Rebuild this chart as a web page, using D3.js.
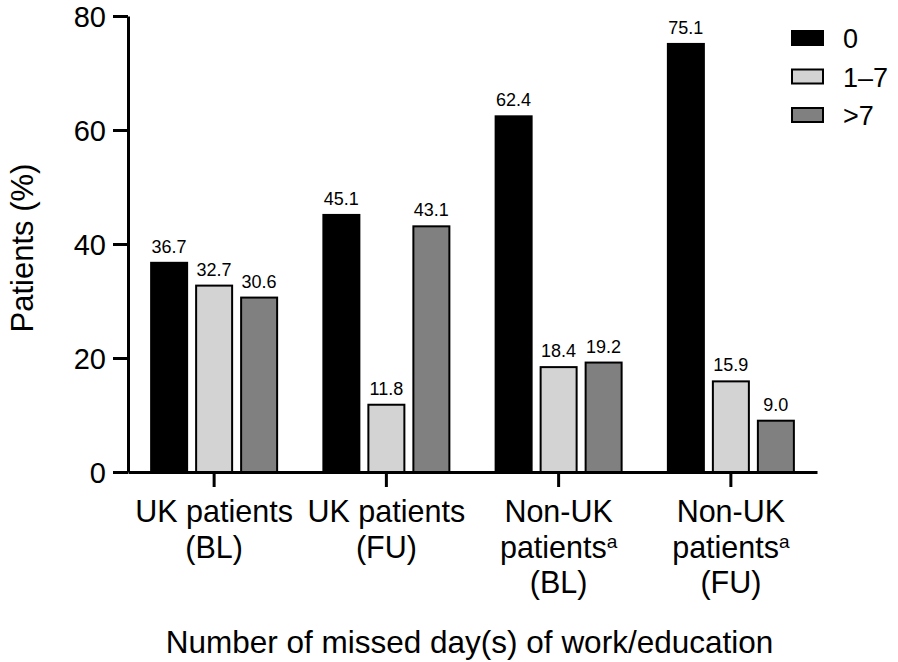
<!DOCTYPE html>
<html>
<head>
<meta charset="utf-8">
<script src="https://cdn.jsdelivr.net/npm/d3@7"></script>
<style>
  html, body { margin: 0; padding: 0; background: #fff; }
  svg { display: block; font-family: "Liberation Sans", Arial, sans-serif; }
</style>
</head>
<body>
<svg id="chart" width="898" height="662"></svg>
<script>
const categories = ["UK patients (BL)", "UK patients (FU)", "Non-UK patients (BL)", "Non-UK patients (FU)"];
const categoryLines = [
  [["UK patients", ""], ["(BL)", ""]],
  [["UK patients", ""], ["(FU)", ""]],
  [["Non-UK", ""], ["patients", "a"], ["(BL)", ""]],
  [["Non-UK", ""], ["patients", "a"], ["(FU)", ""]]
];
const seriesNames = ["0", "1\u20137", ">7"];
const values0 = [36.7, 45.1, 62.4, 75.1];
const values1to7 = [32.7, 11.8, 18.4, 15.9];
const valuesOver7 = [30.6, 43.1, 19.2, 9.0];
const yTicks = [0, 20, 40, 60, 80];
const colors = ["#000000", "#d3d3d3", "#808080"];

const seriesValues = [values0, values1to7, valuesOver7];
const data = categories.map((c, i) => ({
  cat: c,
  vals: seriesNames.map((s, j) => ({ series: s, idx: j, value: seriesValues[j][i] }))
}));

const svg = d3.select("#chart");
const mLeft = 128, mRight = 817, mTop = 16, mBottom = 472;

const x0 = d3.scaleBand().domain(categories).range([mLeft, mRight]).padding(0);
const bw = x0.bandwidth();
const x1 = d3.scaleBand().domain(seriesNames)
  .range([bw / 2 - 67.5, bw / 2 + 67.5]).paddingInner(0.2).paddingOuter(0.1);
const y = d3.scaleLinear().domain([0, 80]).range([mBottom, mTop]);

// bars
const g = svg.append("g");
const groups = g.selectAll("g.grp").data(data).join("g")
  .attr("class", "grp")
  .attr("transform", d => `translate(${x0(d.cat)},0)`);

groups.selectAll("rect").data(d => d.vals).join("rect")
  .attr("x", d => x1(d.series))
  .attr("y", d => y(d.value))
  .attr("width", x1.bandwidth())
  .attr("height", d => y(0) - y(d.value))
  .attr("fill", d => colors[d.idx])
  .attr("stroke", "#000")
  .attr("stroke-width", 2);

groups.selectAll("text.val").data(d => d.vals).join("text")
  .attr("class", "val")
  .attr("x", d => x1(d.series) + x1.bandwidth() / 2)
  .attr("y", d => y(d.value) - 10)
  .attr("text-anchor", "middle")
  .attr("font-size", 18)
  .attr("fill", "#000")
  .text(d => d.value.toFixed(1));

// y axis
const yAxis = svg.append("g")
  .attr("transform", `translate(${mLeft},0)`)
  .call(d3.axisLeft(y).tickValues(yTicks).tickSize(15).tickSizeOuter(0).tickPadding(7));
yAxis.select(".domain").attr("stroke-width", 3).attr("stroke", "#000");
yAxis.selectAll(".tick line").attr("stroke-width", 3).attr("stroke", "#000");
yAxis.selectAll(".tick text").attr("font-size", 29).attr("fill", "#000")
  .attr("font-family", "Liberation Sans, Arial, sans-serif").attr("dy", "0.36em");

// x axis
const xAxis = svg.append("g")
  .attr("transform", `translate(0,${mBottom})`)
  .call(d3.axisBottom(x0).tickSize(15).tickSizeOuter(0).tickFormat(""));
xAxis.select(".domain").attr("stroke-width", 3).attr("stroke", "#000");
xAxis.selectAll(".tick line").attr("stroke-width", 3).attr("stroke", "#000");

// category labels
categories.forEach((c, i) => {
  const cx = x0(c) + bw / 2;
  const lines = categoryLines[i];
  lines.forEach((ln, k) => {
    const t = svg.append("text")
      .attr("x", cx)
      .attr("y", 522 + k * 35.5)
      .attr("text-anchor", "middle")
      .attr("font-size", 30.5)
      .attr("fill", "#000");
    t.append("tspan").text(ln[0]);
    if (ln[1]) {
      t.append("tspan").attr("font-size", 19).attr("dy", -10).text(ln[1]);
    }
  });
});

// axis titles
svg.append("text")
  .attr("transform", `translate(33,${(mTop + mBottom) / 2 + 4}) rotate(-90)`)
  .attr("text-anchor", "middle")
  .attr("font-size", 31)
  .attr("fill", "#000")
  .text("Patients (%)");

svg.append("text")
  .attr("x", (mLeft + mRight) / 2 - 3)
  .attr("y", 653)
  .attr("text-anchor", "middle")
  .attr("font-size", 31.5)
  .attr("fill", "#000")
  .text("Number of missed day(s) of work/education");

// legend
const legend = svg.append("g");
seriesNames.forEach((s, j) => {
  const cy = 38 + j * 38.5;
  legend.append("rect")
    .attr("x", 792).attr("y", cy - 7)
    .attr("width", 31).attr("height", 14)
    .attr("fill", colors[j]).attr("stroke", "#000").attr("stroke-width", 2);
  legend.append("text")
    .attr("x", 843).attr("y", cy + 10)
    .attr("font-size", 27).attr("fill", "#000")
    .text(s);
});
</script>
</body>
</html>
